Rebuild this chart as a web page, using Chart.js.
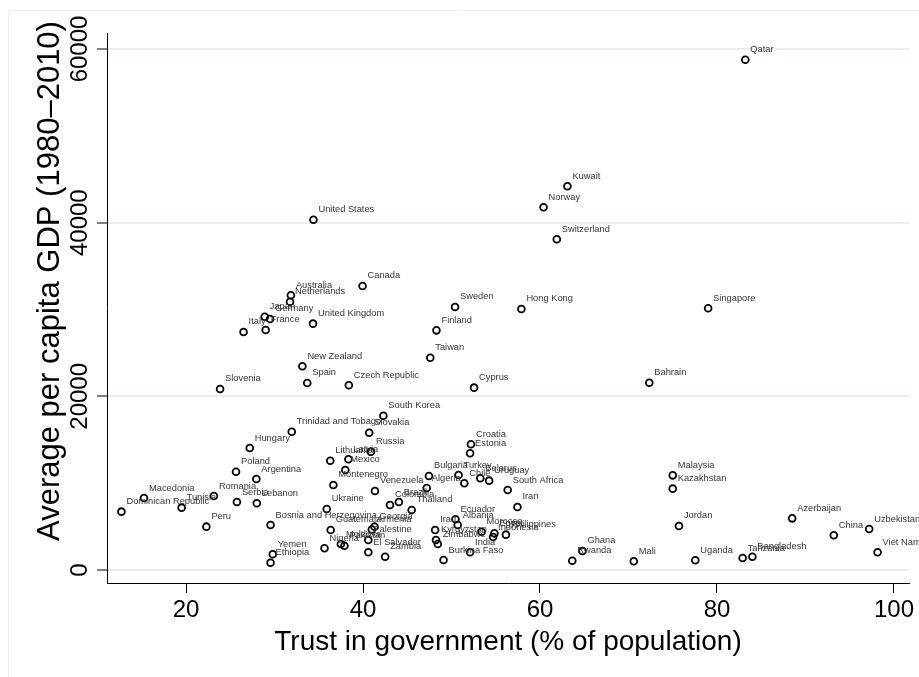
<!DOCTYPE html>
<html lang="en">
<head>
<meta charset="UTF-8">
<title>Trust in government and GDP per capita</title>
<script src="https://cdn.jsdelivr.net/npm/chart.js"></script>
<style>
  html, body { margin: 0; padding: 0; background: #fff; }
  canvas { display: block; }
</style>
</head>
<body>
<canvas id="trustChart" width="919" height="677"></canvas>
<script>
const countries = [
  'Qatar', 'Kuwait', 'Norway', 'United States', 'Switzerland', 'Canada',
  'Australia', 'Netherlands', 'Sweden', 'Hong Kong', 'Singapore', 'Japan',
  'Germany', 'France', 'Italy', 'United Kingdom', 'Finland', 'Taiwan',
  'New Zealand', 'Spain', 'Czech Republic', 'Slovenia', 'Cyprus', 'Bahrain',
  'South Korea', 'Trinidad and Tobago', 'Slovakia', 'Hungary', 'Russia', 'Croatia',
  'Estonia', 'Latvia', 'Lithuania', 'Mexico', 'Poland', 'Argentina',
  'Montenegro', 'Venezuela', 'Bulgaria', 'Turkey', 'Algeria', 'Chile',
  'Belarus', 'Uruguay', 'South Africa', 'Malaysia', 'Kazakhstan', 'Macedonia',
  'Romania', 'Tunisia', 'Dominican Republic', 'Serbia', 'Lebanon', 'Ukraine',
  'Brazil', 'Colombia', 'Thailand', 'Iran', 'Peru', 'Bosnia and Herzegovina',
  'Guatemala', 'Georgia', 'Armenia', 'Palestine', 'Moldova', 'Pakistan',
  'Nigeria', 'El Salvador', 'Zambia', 'Yemen', 'Ethiopia', 'Ecuador',
  'Albania', 'Iraq', 'Kyrgyzstan', 'Zimbabwe', 'Morocco', 'Egypt',
  'Indonesia', 'Philippines', 'India', 'Burkina Faso', 'Ghana', 'Rwanda',
  'Mali', 'Jordan', 'Uganda', 'Tanzania', 'Bangladesh', 'Azerbaijan',
  'China', 'Uzbekistan', 'Viet Nam'
];
// % of population trusting government
const trust = [
  83.2, 63.1, 60.4, 34.4, 61.9, 39.95,
  31.85, 31.75, 50.4, 57.9, 79.0, 28.9,
  29.5, 29.0, 26.5, 34.35, 48.3, 47.6,
  33.15, 33.7, 38.4, 23.85, 52.55, 72.35,
  42.3, 31.95, 40.7, 27.2, 40.9, 52.2,
  52.1, 38.35, 36.3, 38.0, 25.65, 27.95,
  36.65, 41.35, 47.45, 50.8, 47.2, 51.45,
  53.25, 54.25, 56.35, 75.0, 75.0, 15.25,
  23.15, 19.5, 12.7, 25.75, 28.0, 35.9,
  44.05, 43.05, 45.5, 57.45, 22.3, 29.55,
  36.35, 41.3, 41.0, 40.6, 37.5, 37.9,
  35.65, 40.6, 42.5, 29.8, 29.55, 50.45,
  50.7, 48.15, 48.25, 48.45, 53.4, 54.85,
  54.7, 56.15, 52.1, 49.1, 64.8, 63.65,
  70.6, 75.7, 77.55, 82.9, 84.0, 88.5,
  93.2, 97.2, 98.15
];
// average GDP per capita, 1980-2010
const gdp = [
  58770, 44190, 41770, 40340, 38090, 32710,
  31640, 30900, 30290, 30060, 30140, 29170,
  28910, 27640, 27410, 28370, 27600, 24450,
  23460, 21540, 21270, 20850, 21000, 21570,
  17770, 15930, 15810, 14050, 13630, 14480,
  13440, 12750, 12590, 11520, 11320, 10480,
  9790, 9100, 10830, 10940, 9440, 9990,
  10560, 10290, 9210, 10900, 9370, 8290,
  8520, 7180, 6720, 7830, 7680, 7030,
  7830, 7490, 6910, 7260, 4990, 5180,
  4610, 4990, 4660, 3460, 2990, 2800,
  2500, 2040, 1530, 1810, 840, 5840,
  5180, 4610, 3460, 2990, 4410, 4220,
  3800, 4070, 2040, 1150, 2190, 1070,
  1000, 5070, 1120, 1380, 1530, 5950,
  4000, 4720, 2040
];
const xTicks = [20, 40, 60, 80, 100];
const yTicks = [0, 20000, 40000, 60000];
const xTitle = 'Trust in government (% of population)';
const yTitle = 'Average per capita GDP (1980\u20132010)';

const FONT = '"Liberation Sans", Arial, Helvetica, sans-serif';

// faint outline of the graph region
const graphFrame = {
  id: 'graphFrame',
  beforeDraw(chart) {
    const ctx = chart.ctx;
    ctx.save();
    ctx.strokeStyle = '#edf1f4';
    ctx.lineWidth = 1;
    ctx.beginPath();
    ctx.moveTo(8.5, chart.height);
    ctx.lineTo(8.5, 10.5);
    ctx.lineTo(chart.width, 10.5);
    ctx.stroke();
    ctx.restore();
  }
};

// country name up and to the right of each marker
const pointLabels = {
  id: 'pointLabels',
  afterDatasetsDraw(chart) {
    const ctx = chart.ctx;
    const meta = chart.getDatasetMeta(0);
    ctx.save();
    ctx.font = '9.3px ' + FONT;
    ctx.fillStyle = '#333';
    ctx.textAlign = 'left';
    ctx.textBaseline = 'alphabetic';
    meta.data.forEach((pt, i) => ctx.fillText(countries[i], pt.x + 5, pt.y - 7.5));
    ctx.restore();
  }
};

// tick labels (y ones rotated) and axis titles
const axisText = {
  id: 'axisText',
  afterDraw(chart) {
    const { ctx, scales: { x, y } } = chart;
    ctx.save();
    ctx.fillStyle = '#000';
    ctx.textAlign = 'center';
    ctx.textBaseline = 'alphabetic';
    ctx.font = '24px ' + FONT;
    xTicks.forEach(v => ctx.fillText(String(v), x.getPixelForValue(v), 617));
    yTicks.forEach(v => {
      ctx.save();
      ctx.translate(87, y.getPixelForValue(v));
      ctx.rotate(-Math.PI / 2);
      ctx.fillText(String(v), 0, 0);
      ctx.restore();
    });
    ctx.font = '28px ' + FONT;
    ctx.fillText(xTitle, (x.left + x.right) / 2, 650);
    ctx.font = '31px ' + FONT;
    ctx.translate(59, 281);
    ctx.rotate(-Math.PI / 2);
    ctx.fillText(yTitle, 0, 0);
    ctx.restore();
  }
};

new Chart(document.getElementById('trustChart'), {
  type: 'scatter',
  data: {
    datasets: [{
      data: trust.map((t, i) => ({ x: t, y: gdp[i] })),
      pointStyle: 'circle',
      pointRadius: 3.4,
      pointHoverRadius: 3.4,
      borderColor: '#000',
      borderWidth: 1.8,
      backgroundColor: 'rgba(0,0,0,0)'
    }]
  },
  options: {
    responsive: false,
    animation: false,
    devicePixelRatio: 1,
    events: [],
    layout: { padding: { top: 33, right: 10, bottom: 0, left: 0 } },
    plugins: { legend: { display: false }, tooltip: { enabled: false } },
    scales: {
      x: {
        type: 'linear',
        min: 11.07,
        max: 101.7,
        afterBuildTicks: s => { s.ticks = xTicks.map(v => ({ value: v })); },
        afterFit: s => { s.height = 94; },
        ticks: { display: false },
        grid: { drawOnChartArea: false, drawTicks: true, tickLength: 10, tickColor: '#000', tickWidth: 1 },
        border: { color: '#000', width: 1 }
      },
      y: {
        type: 'linear',
        min: -1497,
        max: 61843,
        afterBuildTicks: s => { s.ticks = yTicks.map(v => ({ value: v })); },
        afterFit: s => { s.width = 107; },
        ticks: { display: false },
        grid: { color: '#e8eff3', lineWidth: 2, drawTicks: true, tickLength: 10, tickColor: '#000', tickWidth: 1 },
        border: { color: '#000', width: 1 }
      }
    }
  },
  plugins: [graphFrame, pointLabels, axisText]
});
</script>
</body>
</html>
